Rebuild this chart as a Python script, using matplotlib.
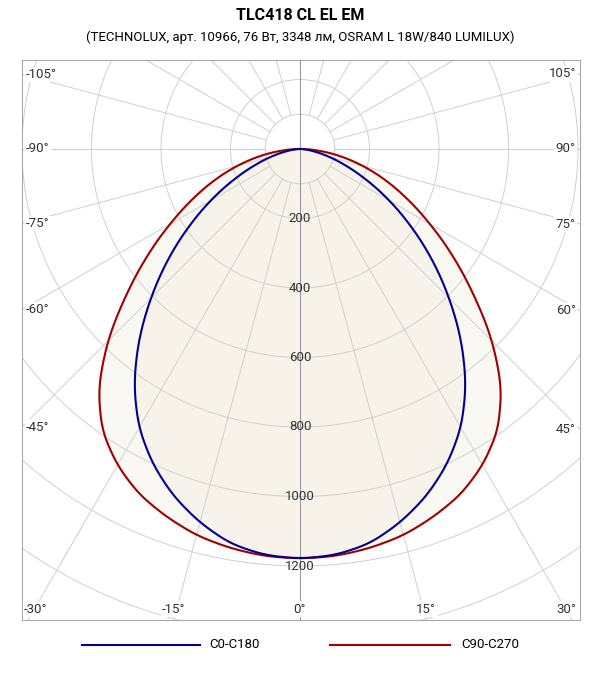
import numpy as np
import matplotlib.pyplot as plt
from matplotlib.lines import Line2D

plt.rcParams['font.family'] = ['Roboto', 'DejaVu Sans']

angles = [0, 5, 10, 15, 20, 25, 30, 35, 40, 45, 50, 55, 60, 65, 70, 75, 80, 85, 90]
c0_c180 = [1178, 1172, 1152, 1112, 1062, 1000, 925, 830, 720, 605, 495, 390, 295, 210, 140, 85, 42, 14, 0]
c90_c270 = [1178, 1175, 1165, 1150, 1125, 1095, 1050, 990, 900, 780, 650, 535, 430, 340, 260, 185, 115, 50, 0]
radial_ticks = [200, 400, 600, 800, 1000, 1200]
angle_ticks = [-105, -90, -75, -60, -45, -30, -15, 0, 15, 30, 45, 60, 75, 90, 105]

W, H = 600, 680
fig = plt.figure(figsize=(W / 100, H / 100), dpi=100)
ax = fig.add_axes([22 / W, 1 - 620 / H, 558 / W, 560 / H])
k = 200 / 69.5
x0, x1 = -278 * k, 280 * k
ytop, ybot = -89 * k, 471 * k
ax.set_xlim(x0, x1)
ax.set_ylim(ybot, ytop)
ax.set_xticks([]); ax.set_yticks([])
for s in ax.spines.values():
    s.set_color('#aaaaaa'); s.set_linewidth(0.8)


def curve(vals):
    deg = np.arange(-90, 90.25, 0.25)
    th = np.radians(deg)
    r = np.interp(np.abs(deg), angles, vals)
    # light smoothing of the piecewise-linear profile
    kern = np.ones(15) / 15
    rp = np.pad(r, 7, mode='edge')
    r = np.convolve(rp, kern, mode='valid')
    return r * np.sin(th), r * np.cos(th)


xr, yr = curve(c90_c270)
xb, yb = curve(c0_c180)
ax.fill(xr, yr, color='#faf8f2', zorder=1)
ax.fill(xb, yb, color='#f7f3ea', zorder=1)

# grid
t = np.linspace(0, 2 * np.pi, 400)
for r in [100] + list(range(200, 2600, 200)):
    ax.plot(r * np.cos(t), r * np.sin(t), color='#d0d0d0', lw=0.7, zorder=2)
for a in range(-180, 181, 15):
    th = np.radians(a)
    ax.plot([100 * np.sin(th), 3000 * np.sin(th)], [100 * np.cos(th), 3000 * np.cos(th)],
            color='#d0d0d0', lw=0.7, zorder=2)

ax.plot([0, 0], [ytop, ybot], color='#999999', lw=0.8, zorder=3)
ax.plot(xr, yr, color='#a00000', lw=1.5, zorder=5)
ax.plot(xb, yb, color='#000090', lw=1.5, zorder=5)

for r in radial_ticks:
    ax.text(0, r, str(r), ha='center', va='center', fontsize=9.5, color='#333333', zorder=6)

# angle labels at the box edges
for a in angle_ticks:
    th = np.radians(a)
    s, c = np.sin(th), np.cos(th)
    if abs(a) >= 45:
        xe = x0 if a < 0 else x1
        y = xe / s * c
        ha = 'left' if a < 0 else 'right'
        ax.text(xe + (12 if a < 0 else -12), y, f"{a}°", ha=ha, va='center', fontsize=9.5,
                color='#333333', zorder=6, bbox=dict(facecolor='white', edgecolor='none', pad=1))
    else:
        x = ybot / c * s
        x = min(max(x, x0 + 40), x1 - 40)
        ax.text(x, ybot - 12, f"{a}°", ha='center', va='bottom', fontsize=9.5,
                color='#333333', zorder=6, bbox=dict(facecolor='white', edgecolor='none', pad=1))

fig.text(0.5, 1 - 16 / H, "TLC418 CL EL EM", ha='center', va='center', fontsize=11.5,
         fontweight='bold')
fig.text(0.5, 1 - 37 / H, "(TECHNOLUX, арт. 10966, 76 Вт, 3348 лм, OSRAM L 18W/840 LUMILUX)",
         ha='center', va='center', fontsize=9.5)

ly = 1 - 645 / H
fig.add_artist(Line2D([82 / W, 200 / W], [ly, ly], color='#000090', lw=1.5))
fig.text(235 / W, ly, "C0-C180", ha='center', va='center', fontsize=9.5)
fig.add_artist(Line2D([330 / W, 450 / W], [ly, ly], color='#a00000', lw=1.5))
fig.text(490 / W, ly, "C90-C270", ha='center', va='center', fontsize=9.5)

fig.savefig("out.png", dpi=100)
